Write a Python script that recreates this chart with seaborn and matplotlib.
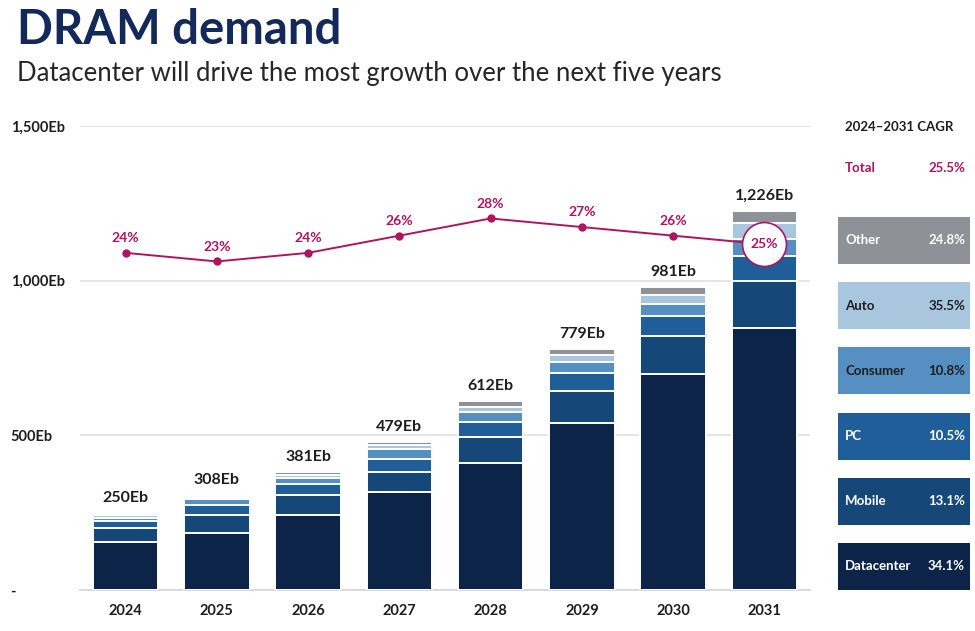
import matplotlib
matplotlib.use("Agg")
import matplotlib.pyplot as plt
from matplotlib.patches import Rectangle
import seaborn as sns
import pandas as pd
import numpy as np

years = ["2024", "2025", "2026", "2027", "2028", "2029", "2030", "2031"]
totals = [250, 308, 381, 479, 612, 779, 981, 1226]
# segment values (Eb)
datacenter = [155, 183, 243, 316, 412, 539, 699, 846]
mobile = [45, 60, 63, 67, 83, 104, 122, 152]
pc = [24, 33, 36, 42, 47, 58, 64, 82]
consumer = [10, 17, 20, 30, 35, 37, 39, 55]
auto = [8, 9, 11, 14, 16, 22, 30, 51]
other = [8, 6, 8, 10, 19, 19, 27, 40]
growth = [24, 23, 24, 26, 28, 27, 26, 25]

segments = ["Other", "Auto", "Consumer", "PC", "Mobile", "Datacenter"]
cagr = ["24.8%", "35.5%", "10.8%", "10.5%", "13.1%", "34.1%"]
total_cagr = "25.5%"
seg_colors = {"Datacenter": "#0c2448", "Mobile": "#154879", "PC": "#1f5e98",
              "Consumer": "#5690c2", "Auto": "#a9c6df", "Other": "#8e9298"}
label_dark = {"Auto", "Consumer"}

NAVY = "#13295a"
MAGENTA = "#b0145f"
TXT = "#1e1e1e"

sns.set_theme(style="white")
plt.rcParams["font.family"] = ["Lato", "DejaVu Sans"]

df = pd.DataFrame({"year": years, "Datacenter": datacenter, "Mobile": mobile,
                   "PC": pc, "Consumer": consumer, "Auto": auto, "Other": other})

fig = plt.figure(figsize=(9.75, 6.31), dpi=100)
ax = fig.add_axes([80 / 975, 1 - 590 / 631, 730 / 975, 464 / 631])

# stacked bars: draw cumulative sums from the top layer down
stack_order = ["Datacenter", "Mobile", "PC", "Consumer", "Auto", "Other"]
cum = df[stack_order].cumsum(axis=1)
for seg in reversed(stack_order):
    sns.barplot(x=df["year"], y=cum[seg], color=seg_colors[seg], width=0.72,
                edgecolor="white", linewidth=1.4, saturation=1, ax=ax, zorder=3)

for i, t in enumerate(totals):
    ax.text(i, t + 25, f"{t:,}Eb", ha="center", va="bottom", fontsize=11.5,
            fontweight="bold", color=TXT)

ax.set_ylim(0, 1500)
ax.set_yticks([0, 500, 1000, 1500])
ax.set_yticklabels(["-", "500Eb", "1,000Eb", "1,500Eb"])
for lab in ax.get_yticklabels():
    lab.set_ha("left")
ax.tick_params(axis="y", length=0, pad=50, labelsize=10.5, labelcolor=TXT)
for lab in ax.get_yticklabels():
    lab.set_fontweight("bold")
ax.tick_params(axis="x", length=0, pad=10, labelsize=10.5, labelcolor=TXT)
for lab in ax.get_xticklabels():
    lab.set_fontweight("bold")
ax.set_xlabel("")
ax.set_ylabel("")
ax.yaxis.grid(True, color="#dedede", linewidth=1.1, zorder=0)
sns.despine(ax=ax, left=True, top=True, right=True, bottom=False)
ax.spines["bottom"].set_color("#d6d6d6")
ax.set_axisbelow(True)

# growth line on its own scale
ax2 = ax.twinx()
sns.lineplot(x=np.arange(len(years)), y=growth, color=MAGENTA, linewidth=1.4,
             marker="o", markersize=6, markeredgewidth=0, ax=ax2, zorder=5)
ax2.set_ylim(-15.2, 38.75)
ax2.axis("off")
for i, g in enumerate(growth[:-1]):
    ax2.text(i, g + 1.0, f"{g}%", ha="center", va="bottom", fontsize=10,
             fontweight="bold", color=MAGENTA)
ax2.scatter([len(years) - 1], [growth[-1]], s=1000, color="white",
            edgecolor=MAGENTA, linewidth=1.2, zorder=6)
ax2.text(len(years) - 1, growth[-1], f"{growth[-1]}%", ha="center", va="center",
         fontsize=10, fontweight="bold", color=MAGENTA, zorder=7)
ax.set_xlim(-0.5, len(years) - 0.5)

# titles
fig.text(17 / 975, 1 - 44 / 631, "DRAM demand", fontsize=34, fontweight="bold",
         color=NAVY, ha="left", va="baseline")
fig.text(17 / 975, 1 - 81 / 631, "Datacenter will drive the most growth over the next five years",
         fontsize=18.5, color="#262626", ha="left", va="baseline")

# CAGR panel
pan = fig.add_axes([838 / 975, 0, 137 / 975, 1])
pan.set_xlim(838, 975)
pan.set_ylim(631, 0)
pan.axis("off")
pan.text(845, 127, "2024\u20132031 CAGR", fontsize=9.5, fontweight="bold",
         color=TXT, va="center", ha="left")
pan.text(845, 168, "Total", fontsize=9.5, fontweight="bold", color=MAGENTA,
         va="center", ha="left")
pan.text(965, 168, total_cagr, fontsize=9.5, fontweight="bold", color=MAGENTA,
         va="center", ha="right")
box_top = 217
for k, (seg, val) in enumerate(zip(segments, cagr)):
    y0 = box_top + k * 65.2
    pan.add_patch(Rectangle((838, y0), 132, 47, facecolor=seg_colors[seg],
                            edgecolor="none"))
    c = TXT if seg in label_dark else "white"
    pan.text(845, y0 + 23.5, seg, fontsize=9.5, fontweight="bold", color=c,
             va="center", ha="left")
    pan.text(965, y0 + 23.5, val, fontsize=9.5, fontweight="bold", color=c,
             va="center", ha="right")

fig.savefig("out.png", dpi=100)
